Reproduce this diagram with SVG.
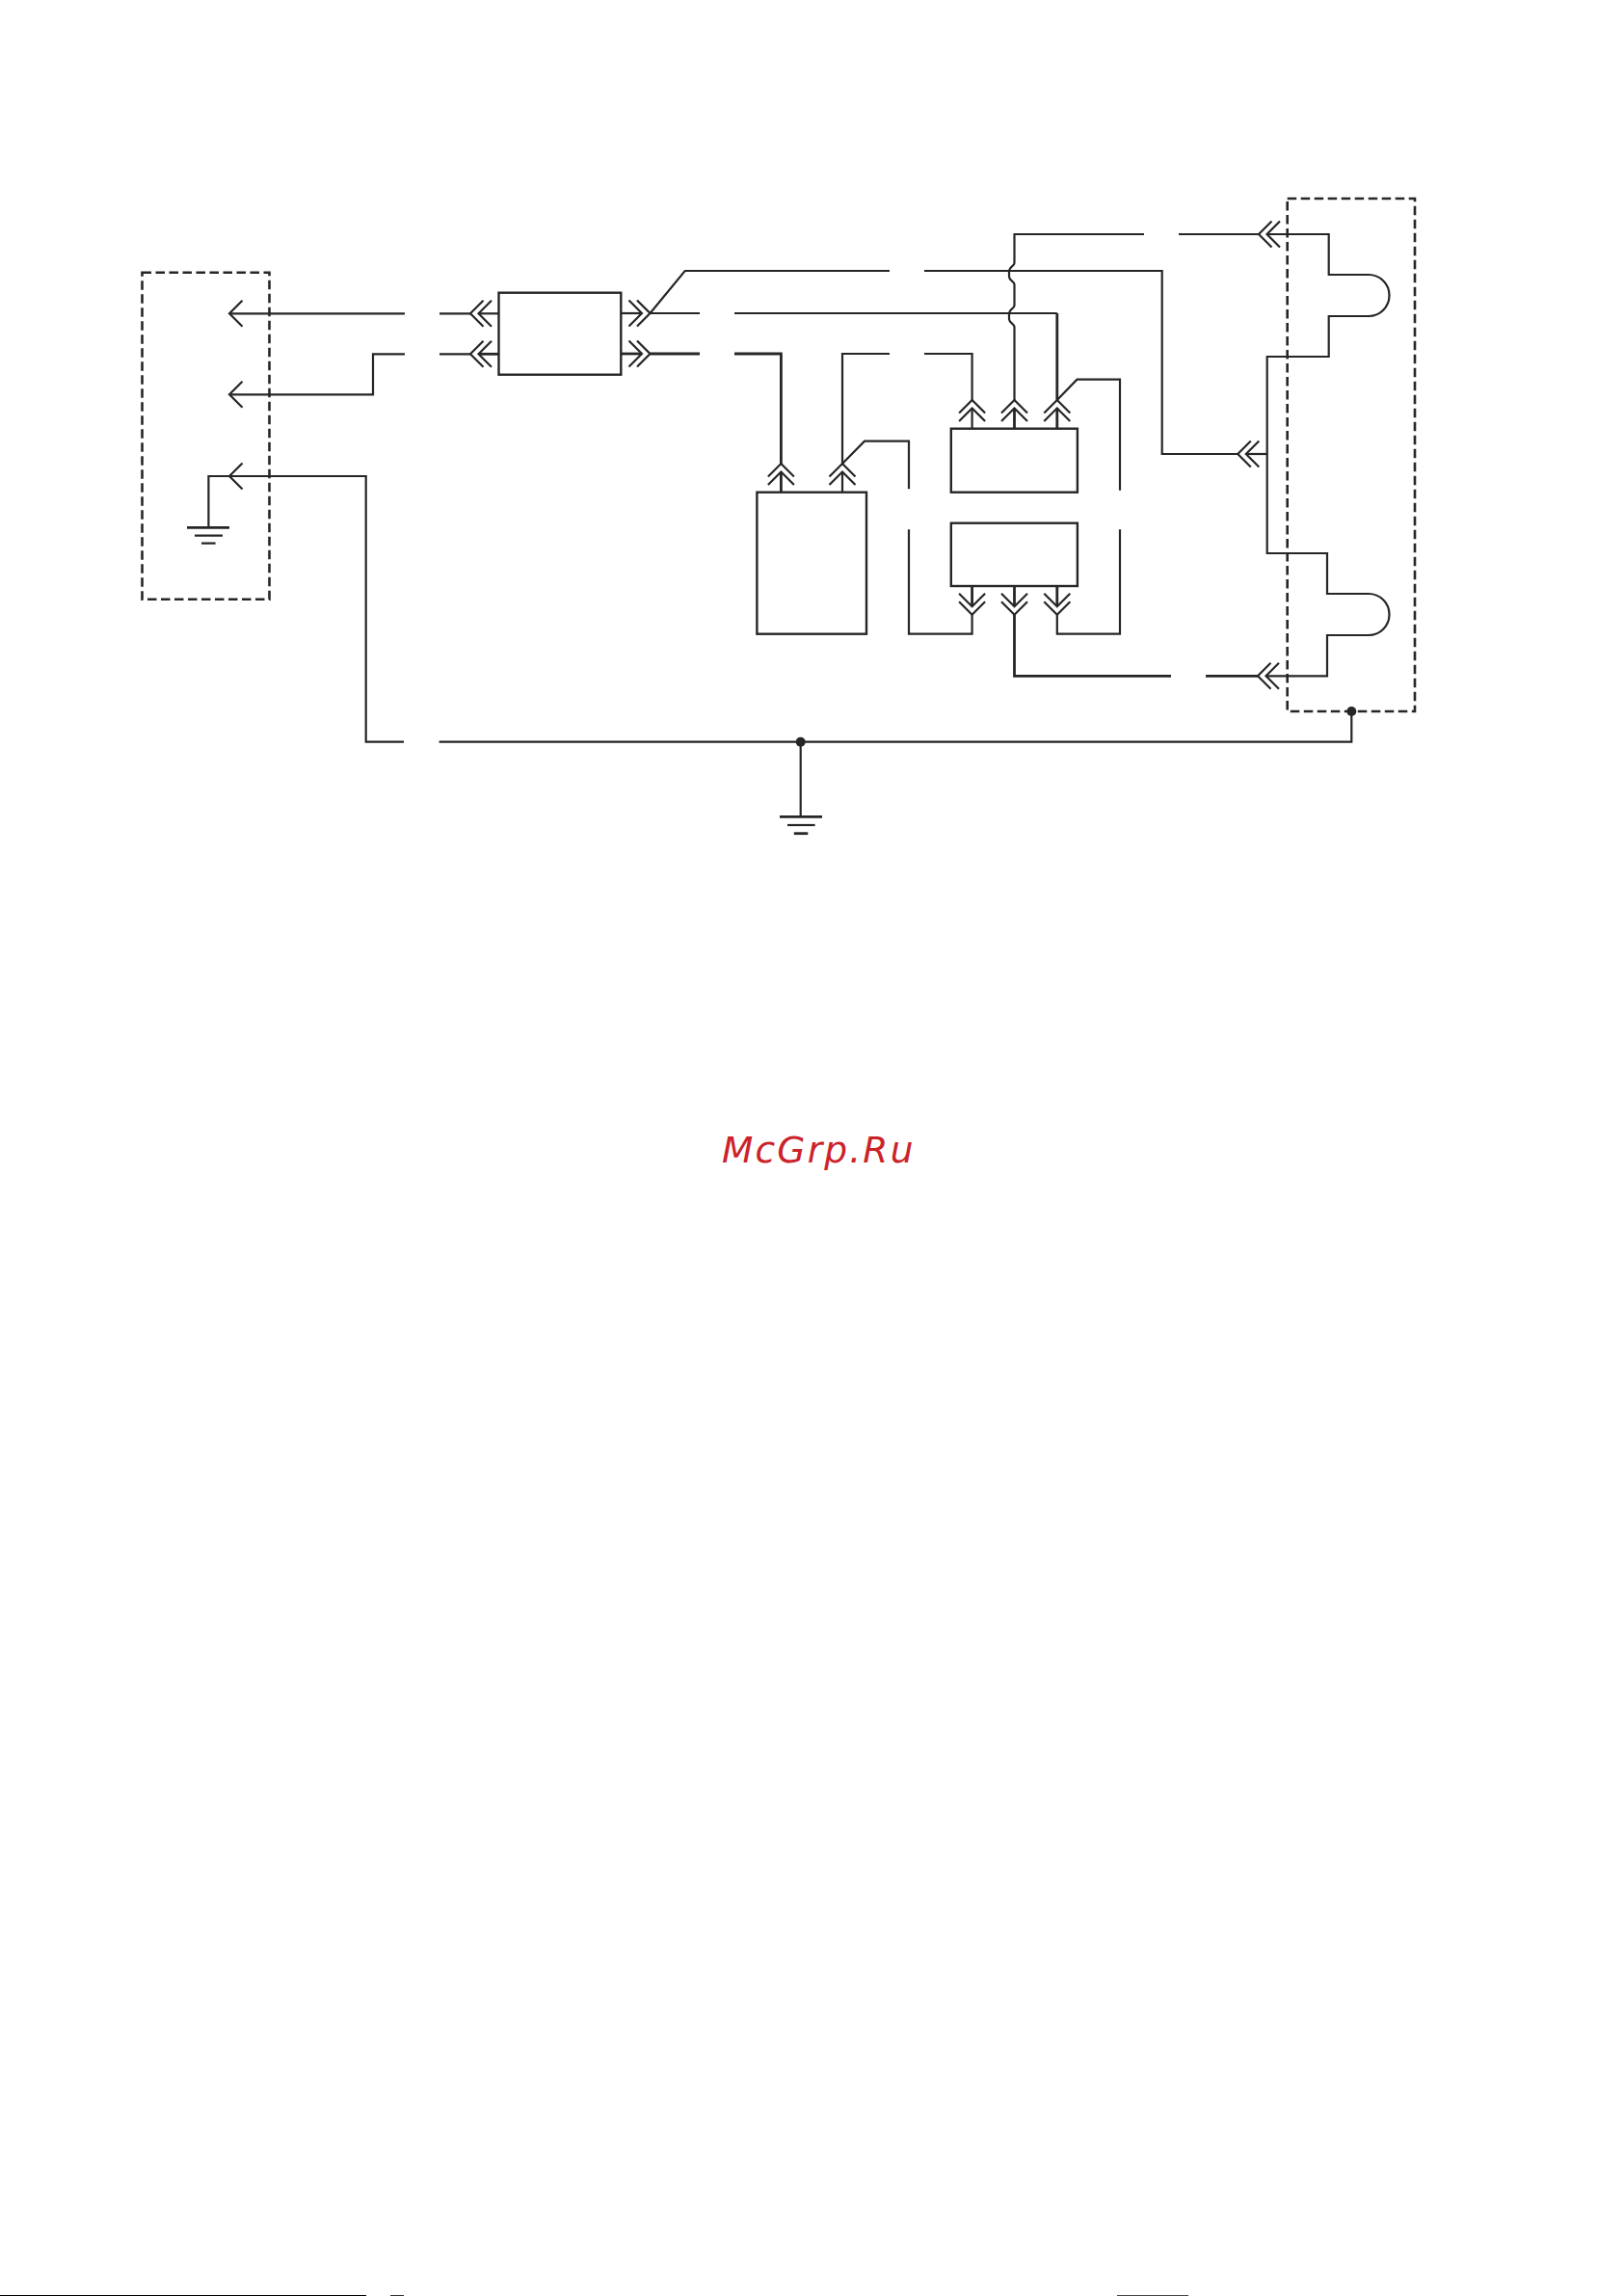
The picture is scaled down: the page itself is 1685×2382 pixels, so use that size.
<svg xmlns="http://www.w3.org/2000/svg" width="1685" height="2382" viewBox="0 0 1685 2382">
<style>
.w{fill:none;stroke:#262626;stroke-width:2.2;stroke-linejoin:miter}
.t{stroke-width:2.8}
.b{fill:#fff;stroke:#262626;stroke-width:2.4}
.d{fill:none;stroke:#262626;stroke-width:2.6;stroke-dasharray:9.5 4.5}
.j{fill:#262626;stroke:none}
.a{fill:none;stroke:#262626;stroke-width:2.2}
</style>
<defs>
<path id="sgl" class="a" d="M13.5,-13.5 L0,0 L13.5,13.5"/>
<path id="dbl" class="a" d="M13.5,-13.5 L0,0 L13.5,13.5 M22,-13.5 L8.5,0 L22,13.5"/>
</defs>
<rect width="1685" height="2382" fill="#fff"/>
<g id="connectors">
<path class="w" d="M238,325.3 H420 M456,325.3 H488"/>
<path class="w" d="M497,325.3 H517"/>
<path class="w" d="M238,409.3 H387 V367.3 H420 M456,367.3 H488"/>
<path class="w t" d="M497,367.3 H517"/>
<path class="w" d="M216.4,547.3 V494 H379.7 V769.7 H419 M455.6,769.7 H1402.3 V738"/>
<path class="w" d="M645,325 H666"/>
<path class="w t" d="M645,367 H666"/>
<path class="w" d="M674.5,325 H726 M762,325 H1096.8"/>
<path class="w t" d="M1096.8,325 V415"/>
<path class="w" d="M674.5,325 L710.7,281 H923 M959,281 H1205.7 V471 H1284"/>
<path class="w" d="M1292.7,471 H1314.7"/>
<path class="w t" d="M674.5,367 H726 M762,367 H810.4 V481"/>
<path class="w" d="M874,481 V367 H923 M959,367 H1008.6 V415"/>
<path class="w" d="M1052.5,415 V339 C1052.5,336 1047,335 1047,331 V325 C1047,321 1052.5,320 1052.5,317 V295 C1052.5,292 1047,291 1047,287 V281 C1047,277 1052.5,276 1052.5,273 V243 H1187 M1223,243 H1306"/>
<path class="w" d="M1314.5,243 H1378.7 V285 H1420 A21.5,21.5 0 0 1 1420,328 H1378.7 V370 H1314.7 V574 H1377 V616 H1420 A21.5,21.5 0 0 1 1420,659 H1377 V701.3 H1313.5"/>
<path class="w t" d="M1052.5,637.7 V701.3 H1215 M1251,701.3 H1305"/>
<path class="w" d="M1008.6,637.7 V657.7 H943 V549.3 M943,507.3 V457.7 H897 L874,481"/>
<path class="w" d="M1096.8,637.7 V657.7 H1162 V549.3 M1162,508.7 V393.7 H1117.5 L1096.8,415"/>
<path class="w t" d="M1008.6,608 V629 M1052.5,608 V629 M1096.8,608 V629"/>
<path class="w" d="M1008.6,423.5 V444.7"/>
<path class="w t" d="M1052.5,423.5 V444.7 M1096.8,423.5 V444.7"/>
<path class="w t" d="M810.4,489.5 V510.7"/>
<path class="w" d="M874,489.5 V510.7"/>
<path class="w" d="M830.7,769.7 V847.3"/>
</g>
<g id="arrowheads">
<use href="#sgl" x="238" y="325.3"/>
<use href="#sgl" x="238" y="409.3"/>
<use href="#sgl" x="238" y="494"/>
<use href="#dbl" x="488" y="325.3"/>
<use href="#dbl" x="488" y="367.3"/>
<use href="#dbl" transform="translate(674.5,325) rotate(180)"/>
<use href="#dbl" transform="translate(674.5,367) rotate(180)"/>
<use href="#dbl" transform="translate(810.4,481) rotate(90)"/>
<use href="#dbl" transform="translate(874,481) rotate(90)"/>
<use href="#dbl" transform="translate(1008.6,415) rotate(90)"/>
<use href="#dbl" transform="translate(1052.5,415) rotate(90)"/>
<use href="#dbl" transform="translate(1096.8,415) rotate(90)"/>
<use href="#dbl" transform="translate(1008.6,637.7) rotate(-90)"/>
<use href="#dbl" transform="translate(1052.5,637.7) rotate(-90)"/>
<use href="#dbl" transform="translate(1096.8,637.7) rotate(-90)"/>
<use href="#dbl" x="1306" y="243"/>
<use href="#dbl" x="1284.3" y="471"/>
<use href="#dbl" x="1305" y="701.3"/>
</g>
<g id="left-unit"><rect class="d" x="147.5" y="282.7" width="132" height="339"/></g>
<g id="right-unit"><rect class="d" x="1335.7" y="206" width="132.3" height="532"/></g>
<g id="box-filter"><rect class="b" x="517.5" y="303.7" width="126.8" height="85"/></g>
<g id="box-main"><rect class="b" x="785.4" y="510.7" width="113.6" height="147"/></g>
<g id="box-upper"><rect class="b" x="986.8" y="444.7" width="131.1" height="66"/></g>
<g id="box-lower"><rect class="b" x="986.8" y="542.7" width="131.1" height="65.3"/></g>
<g id="ground-left">
<path class="w t" d="M194,547.3 H238"/>
<path class="w" d="M202,555.7 H231 M209,563.7 H223.6"/>
</g>
<g id="ground-center">
<path class="w t" d="M809,847.3 H853"/>
<path class="w" d="M817,856 H845.6"/>
<path class="w t" d="M823.8,864.7 H838.3"/>
</g>
<g id="junctions">
<circle class="j" cx="830.7" cy="769.7" r="5"/>
<circle class="j" cx="1402.3" cy="738" r="5"/>
</g>
<g id="watermark">
<text x="749" y="1205.7" font-family="'DejaVu Sans',sans-serif" font-style="oblique" font-size="37.5" letter-spacing="2.2" fill="#cc2229">McGrp.Ru</text>
</g>
<g id="page-edge">
<rect x="0" y="2381" width="380" height="1" fill="#000"/>
<rect x="405" y="2381" width="14" height="1" fill="#333"/>
<rect x="1159" y="2381" width="74" height="1" fill="#444"/>
</g>
</svg>
